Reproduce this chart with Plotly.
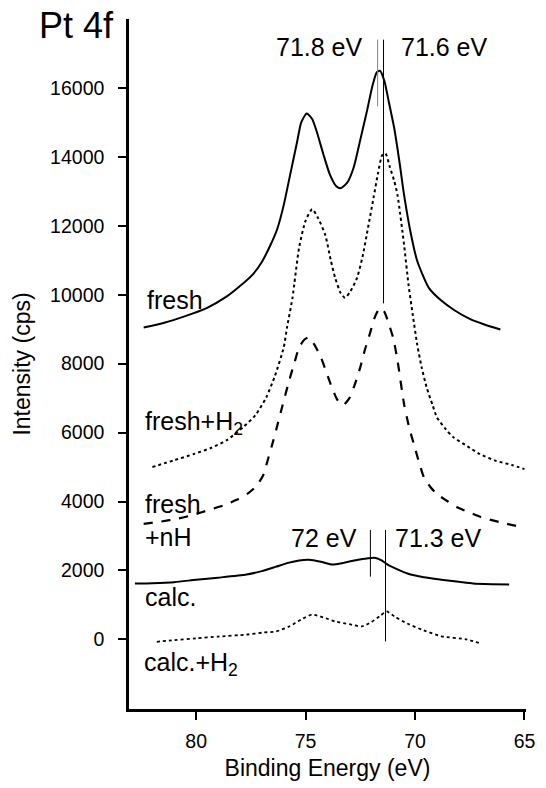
import plotly.graph_objects as go

# ---------------- data ----------------
fresh_be = [82.4, 81.5, 80.5, 79.5, 78.6, 78.0, 77.4, 77.0, 76.6, 76.3, 76.0, 75.7, 75.4, 75.2, 74.95,
            74.7, 74.5, 74.2, 73.9, 73.6, 73.4, 73.1, 72.8, 72.5, 72.2, 71.95, 71.75, 71.6,
            71.4, 71.2, 70.95, 70.7, 70.5, 70.2, 69.9, 69.37, 68.8, 68.2, 67.5, 66.8, 66.1]
fresh_i = [9050, 9180, 9380, 9620, 9950, 10250, 10600, 10950, 11450, 11900, 12600, 13500, 14400, 15000, 15260,
           15100, 14750, 14100, 13500, 13150, 13090, 13250, 13700, 14500, 15320, 16050, 16450, 16500,
           16200, 15600, 14830, 13800, 12890, 11800, 10980, 10200, 9830, 9550, 9300, 9130, 8990]

freshH2_be = [82.0, 81.0, 80.1, 79.3, 78.6, 77.85, 77.3, 76.8, 76.4, 76.0, 75.85, 75.6, 75.3, 75.0,
              74.7, 74.45, 74.1, 73.85, 73.65, 73.4, 73.2, 72.95, 72.65, 72.4, 72.15, 71.9, 71.7,
              71.5, 71.35, 71.15, 70.95, 70.8, 70.5, 70.3, 70.1, 69.9, 69.7, 69.47, 69.2, 69.0,
              68.6, 68.26, 67.6, 67.05, 66.3, 65.58, 65.0]
freshH2_i = [5000, 5200, 5380, 5560, 5780, 6160, 6500, 7020, 7650, 8470, 9050, 9910, 11360, 12150,
             12480, 12250, 11730, 11000, 10490, 10050, 9910, 10100, 10490, 11100, 11940, 12800, 13500,
             14050, 14100, 13700, 13300, 12890, 11440, 10300, 9400, 8550, 7900, 7310, 6800, 6440,
             6100, 5870, 5600, 5380, 5180, 5060, 4940]

freshnH_be = [82.4, 81.6, 80.85, 80.1, 79.4, 78.7, 78.15, 77.6, 77.25, 76.95, 76.8, 76.55, 76.35,
              76.05, 75.75, 75.5, 75.3, 75.05, 74.85, 74.6, 74.3, 74.05, 73.8, 73.55, 73.3, 73.0,
              72.75, 72.5, 72.3, 72.05, 71.85, 71.6, 71.4, 71.25, 71.0, 70.8, 70.5, 70.25, 70.05,
              69.8, 69.6, 69.3, 69.0, 68.5, 68.1, 67.5, 67.0, 66.0, 65.0]
freshnH_i = [3350, 3420, 3500, 3620, 3760, 3900, 4050, 4250, 4450, 4750, 5050, 5600, 6070,
             6800, 7510, 8050, 8470, 8700, 8760, 8550, 8180, 7750, 7310, 6950, 6790, 7000,
             7400, 7900, 8380, 8900, 9330, 9620, 9500, 9250, 8750, 8090, 6820, 6100, 5660,
             5100, 4710, 4420, 4220, 4000, 3840, 3680, 3550, 3380, 3240]

calc_be = [82.8, 82.0, 81.0, 80.0, 79.0, 77.7, 77.0, 76.35, 75.8, 75.3, 74.85, 74.3, 73.8, 73.2,
           72.6, 72.2, 71.85, 71.55, 71.25, 70.8, 70.35, 69.6, 68.8, 68.0, 67.35, 66.5, 65.7]
calc_i = [1620, 1630, 1660, 1730, 1790, 1880, 1980, 2110, 2220, 2290, 2310, 2250, 2170, 2230,
          2310, 2350, 2370, 2300, 2170, 2030, 1910, 1800, 1730, 1670, 1620, 1600, 1590]

calcH2_be = [81.8, 81.0, 80.0, 79.0, 77.7, 76.9, 76.35, 75.75, 75.2, 74.7, 74.2, 73.65, 73.0,
             72.45, 72.0, 71.6, 71.3, 70.9, 70.35, 69.6, 68.8, 67.65, 67.0]
calcH2_i = [-70, -20, 30, 80, 140, 200, 230, 375, 580, 720, 640, 520, 440,
            375, 500, 680, 810, 650, 460, 260, 90, 0, -120]

# peak marker lines: (position, bottom, top)
marker_be = [71.71, 71.44, 72.04, 71.35]
marker_lo = [15470, 9750, 1820, -60]
marker_hi = [17400, 17400, 3175, 3175]
marker_col = ["rgb(130,130,130)", "black", "black", "black"]

x_ticks = [80, 75, 70, 65]
x_ticktext = ["80", "75", "70", "65"]
y_ticks = [0, 2000, 4000, 6000, 8000, 10000, 12000, 14000, 16000]
y_ticktext = ["0", "2000", "4000", "6000", "8000", "10000", "12000", "14000", "16000"]

FONT = "Liberation Sans, Arial, Helvetica, sans-serif"

fig = go.Figure()

series = [
    (fresh_be, fresh_i, "solid", 2.0),
    (freshH2_be, freshH2_i, "dot", 2.0),
    (freshnH_be, freshnH_i, "dash", 2.2),
    (calc_be, calc_i, "solid", 2.0),
    (calcH2_be, calcH2_i, "dot", 1.8),
]
for xs, ys, dash, w in series:
    fig.add_trace(go.Scatter(x=xs, y=ys, mode="lines",
                             line=dict(color="black", width=w, dash=dash, shape="spline", smoothing=0.6),
                             hoverinfo="skip", showlegend=False))

for be, lo, hi, col in zip(marker_be, marker_lo, marker_hi, marker_col):
    fig.add_trace(go.Scatter(x=[be, be], y=[lo, hi], mode="lines", line=dict(color=col, width=1),
                             hoverinfo="skip", showlegend=False))

labels = [
    ("fresh", 82.36, 9840, "left"),
    ("fresh+H<sub>2</sub>", 82.45, 6290, "left"),
    ("fresh", 82.45, 3925, "left"),
    ("+nH", 82.45, 2970, "left"),
    ("calc.", 82.45, 1240, "left"),
    ("calc.+H<sub>2</sub>", 82.49, -720, "left"),
    ("72 eV", 74.17, 2945, "center"),
    ("71.3 eV", 68.94, 2945, "center"),
    ("71.8 eV", 74.35, 17200, "center"),
    ("71.6 eV", 68.67, 17200, "center"),
]
for txt, x, y, xa in labels:
    fig.add_annotation(x=x, y=y, text=txt, showarrow=False, xanchor=xa, yanchor="middle",
                       font=dict(family=FONT, size=25, color="black"))

fig.add_annotation(xref="paper", yref="paper", x=-0.032, y=0.991, text="Pt 4f", showarrow=False,
                   xanchor="right", yanchor="middle", font=dict(family=FONT, size=36, color="black"))

fig.update_layout(
    width=546, height=788,
    margin=dict(l=129, r=11, t=19, b=75),
    paper_bgcolor="white", plot_bgcolor="white",
    font=dict(family=FONT, color="black"),
    xaxis=dict(range=[83.07, 64.93], tickmode="array", tickvals=x_ticks, ticktext=x_ticktext,
               ticks="outside", ticklen=8, tickwidth=1.5,
               tickcolor="black", showline=True, linewidth=2.5, linecolor="black",
               showgrid=False, zeroline=False, tickfont=dict(size=19.5), ticklabelstandoff=5,
               title=dict(text="Binding Energy (eV)", font=dict(size=23), standoff=9)),
    yaxis=dict(range=[-2020, 18000], tickmode="array", tickvals=y_ticks, ticktext=y_ticktext,
               ticks="outside", ticklen=8, tickwidth=1.5,
               tickcolor="black", showline=True, linewidth=2.5, linecolor="black",
               showgrid=False, zeroline=False, tickfont=dict(size=19.5), ticklabelstandoff=10,
               title=dict(text="Intensity (cps)", font=dict(size=23), standoff=14)),
)

fig.write_html("out.html")
